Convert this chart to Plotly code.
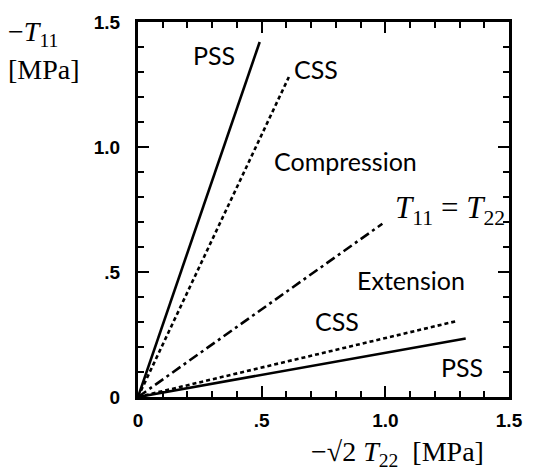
import plotly.graph_objects as go

# Loading-path lines in the (-sqrt2*T22, -T11) plane, each from the origin
pss_steep_x = [0.0, 0.492]
pss_steep_y = [0.0, 1.42]
css_steep_x = [0.0, 0.61]
css_steep_y = [0.0, 1.28]
equal_x = [0.0, 0.988]
equal_y = [0.0, 0.693]
css_flat_x = [0.0, 1.29]
css_flat_y = [0.0, 0.304]
pss_flat_x = [0.0, 1.325]
pss_flat_y = [0.0, 0.234]

tick_vals = [0, 0.5, 1.0, 1.5]
tick_text = ["0", ".5", "1.0", "1.5"]

fig = go.Figure()

lw = 2.6
line_specs = [
    (pss_steep_x, pss_steep_y, "solid"),
    (css_steep_x, css_steep_y, "4px,3px"),
    (equal_x, equal_y, "10px,4px,3px,4px"),
    (css_flat_x, css_flat_y, "4px,3px"),
    (pss_flat_x, pss_flat_y, "solid"),
]
for xs, ys, dash in line_specs:
    fig.add_trace(go.Scatter(x=xs, y=ys, mode="lines",
                             line=dict(color="black", width=lw, dash=dash),
                             showlegend=False, hoverinfo="skip"))

label_font = dict(family="Lato", size=25, color="black")
region_labels = [
    ("PSS", 0.306, 1.367),
    ("CSS", 0.718, 1.313),
    ("Compression", 0.837, 0.943),
    ("Extension", 1.103, 0.467),
    ("CSS", 0.806, 0.304),
    ("PSS", 1.31, 0.121),
]
for txt, x, y in region_labels:
    fig.add_annotation(x=x, y=y, text=txt, showarrow=False, font=label_font,
                       xref="x", yref="y")

serif = dict(family="Liberation Serif", size=28, color="black")
fig.add_annotation(x=1.26, y=0.748, xref="x", yref="y", showarrow=False,
                   text="<i>T</i><sub>11</sub> = <i>T</i><sub>22</sub>",
                   font=dict(serif, size=31))

# axis titles placed as free text (paper coords derived from pixel offsets)
L, R, T, B = 138, 516, 12, 397
pw, ph = R - L, B - T


def px(xp):
    return (xp - L) / pw


def py(yp):
    return (B - yp) / ph


fig.add_annotation(x=px(4), y=py(24), xref="paper", yref="paper", showarrow=False,
                   text="−<i>T</i><sub>11</sub>", font=serif,
                   xanchor="left", yanchor="middle")
fig.add_annotation(x=px(4), y=py(61), xref="paper", yref="paper", showarrow=False,
                   text="[MPa]", font=serif, xanchor="left", yanchor="middle")
fig.add_annotation(x=px(312), y=py(455), xref="paper", yref="paper", showarrow=False,
                   text="−√2 <i>T</i><sub>22</sub>  [MPa]", font=serif,
                   xanchor="left", yanchor="middle")

axis_common = dict(
    range=[0, 1.5], tickvals=tick_vals, ticktext=tick_text,
    ticks="inside", ticklen=11, tickwidth=2.4, tickcolor="black",
    showline=True, linecolor="black", linewidth=3, mirror="ticks",
    showgrid=False, zeroline=False,
    tickfont=dict(family="Liberation Sans", size=19, color="black", weight="bold"),
    minor=dict(dtick=0.1, ticks="inside", ticklen=6, tickwidth=2.2, tickcolor="black",
               showgrid=False),
)
fig.update_xaxes(**axis_common, ticklabelstandoff=4)
fig.update_yaxes(**axis_common, ticklabelstandoff=11)

fig.update_layout(
    width=535, height=476,
    margin=dict(l=L, r=535 - R, t=T, b=476 - B),
    paper_bgcolor="white", plot_bgcolor="white",
)

fig.write_html("out.html")
